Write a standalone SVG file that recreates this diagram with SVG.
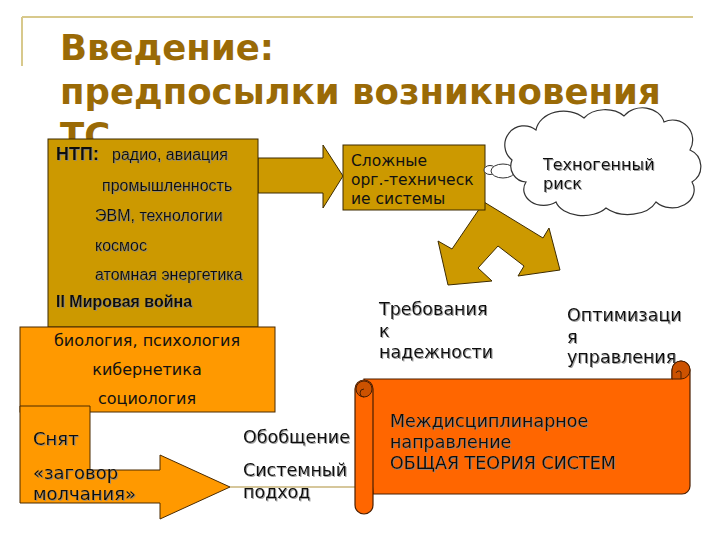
<svg xmlns="http://www.w3.org/2000/svg" width="720" height="540" viewBox="0 0 720 540">
<defs>
<style>
.t{font-family:"DejaVu Sans","Noto Sans",sans-serif;fill:#111;}
.a{font-family:"Liberation Sans",Arial,sans-serif;fill:#111;}
.title{font-family:"DejaVu Sans",sans-serif;font-weight:bold;font-size:35.5px;fill:#9a6a06;}
.gold{fill:#CC9900;stroke:#3d2b00;stroke-width:1;}
.orange{fill:#FF9900;stroke:#4a2a00;stroke-width:1;}
.scroll{fill:#FF6600;stroke:#4a1e00;stroke-width:1.2;}
.curl{fill:#CC5200;stroke:#4a1e00;stroke-width:1;}
.sh{filter:url(#ds);}
</style>
<filter id="ds" x="-5%" y="-20%" width="110%" height="140%">
<feDropShadow dx="1" dy="1" stdDeviation="0.4" flood-color="#888" flood-opacity="0.8"/>
</filter>
</defs>

<g id="title">
<line x1="22" y1="17" x2="693" y2="17" stroke="#d8c98c" stroke-width="2"/>
<line x1="22" y1="17" x2="22" y2="66" stroke="#d8c98c" stroke-width="2"/>
<text class="title" x="60" y="60">Введение:</text>
<text class="title" x="60" y="104">предпосылки возникновения</text>
<text class="title" x="60" y="148">ТС</text>
</g>

<g id="connectors">
<polygon class="gold" points="258,158 323,158 323,145 343,176 323,208 323,193 258,193"/>
<polygon class="gold" points="484,202 543,238 549,228 560,270 518,276 524,266 498,246 478,268 492,281 448,285 438,241 452,249"/>
<line x1="230" y1="487" x2="358" y2="487" stroke="#c9b47a" stroke-width="1.5"/>
</g>

<g id="ntp">
<rect class="gold" x="48" y="139" width="210" height="188"/>
<text class="a sh" x="56" y="160" font-size="18" font-weight="bold">НТП:</text>
<text class="a sh" x="112" y="160" font-size="16">радио, авиация</text>
<text class="a sh" x="102" y="191" font-size="16">промышленность</text>
<text class="a sh" x="95" y="221" font-size="16">ЭВМ, технологии</text>
<text class="a sh" x="95" y="251" font-size="16">космос</text>
<text class="a sh" x="95" y="280" font-size="16">атомная энергетика</text>
<text class="a sh" x="56" y="307" font-size="16" font-weight="bold">II Мировая война</text>
</g>

<g id="sciences">
<rect class="orange" x="20" y="327" width="255" height="85"/>
<text class="t" x="147" y="346" font-size="16" text-anchor="middle">биология, психология</text>
<text class="t" x="147" y="375" font-size="16" text-anchor="middle">кибернетика</text>
<text class="t" x="147" y="404" font-size="16" text-anchor="middle">социология</text>
</g>

<g id="snyat">
<path class="orange" d="M20,406 L90,406 L90,470 L160,470 L160,455 L230,487 L160,519 L160,503 L20,503 Z"/>
<text class="t sh" x="33" y="445" font-size="18">Снят</text>
<text class="t sh" x="33" y="479" font-size="18">«заговор</text>
<text class="t sh" x="33" y="500" font-size="18">молчания»</text>
</g>

<g id="complex">
<rect class="gold" x="343" y="145" width="142" height="65"/>
<text class="t" x="351" y="166" font-size="15.5">Сложные</text>
<text class="t" x="351" y="185" font-size="15.5">орг.-техническ</text>
<text class="t" x="351" y="204" font-size="15.5">ие системы</text>
</g>

<g id="risk">
<ellipse cx="490" cy="170" rx="6" ry="4.5" fill="#fff" stroke="#333" stroke-width="1"/>
<ellipse cx="503" cy="171" rx="12" ry="7" fill="#fff" stroke="#333" stroke-width="1"/>
<path d="M512,160 a18,18 0 0 1 24,-30 a28,22 0 0 1 48,-12 a25,18 0 0 1 40,-2 a22,18 0 0 1 40,6 a20,20 0 0 1 26,28 a18,18 0 0 1 2,32 a22,18 0 0 1 -36,20 a30,20 0 0 1 -50,6 a28,18 0 0 1 -50,-6 a20,16 0 0 1 -30,-20 a16,16 0 0 1 -14,-22 z" fill="#fff" stroke="#333" stroke-width="1.2"/>
<text class="t sh" x="543" y="170" font-size="16">Техногенный</text>
<text class="t sh" x="543" y="189" font-size="16">риск</text>
</g>

<g id="reliability">
<text class="t sh" x="379" y="315" font-size="17.5">Требования</text>
<text class="t sh" x="379" y="337" font-size="17.5">к</text>
<text class="t sh" x="379" y="358" font-size="17.5">надежности</text>
</g>

<g id="optimization">
<text class="t sh" x="567" y="321" font-size="17.5">Оптимизаци</text>
<text class="t sh" x="567" y="343" font-size="17.5">я</text>
<text class="t sh" x="567" y="363" font-size="17.5">управления</text>
</g>

<g id="generalization">
<text class="t sh" x="243" y="443" font-size="17.5">Обобщение</text>
<text class="t sh" x="243" y="476" font-size="17.5">Системный</text>
<text class="t sh" x="243" y="498" font-size="17.5">подход</text>
</g>

<g id="theory">
<path class="scroll" d="M364,379 L672,379 L672,370 A9,9 0 0 1 690,370 L690,486 A8,8 0 0 1 682,494 L373,494 Z"/>
<path class="curl" d="M672,379 L672,370 A9,9 0 0 1 690,370 A9,9 0 0 1 681,379 Z"/>
<path d="M681,379 L681,372 A3,3 0 0 0 676,373" fill="none" stroke="#4a1e00" stroke-width="1"/>
<rect class="scroll" x="355" y="380" width="18" height="134" rx="9"/>
<circle class="curl" cx="364" cy="389" r="8"/>
<path d="M364,397 A4,4 0 0 1 364,389" fill="none" stroke="#4a1e00" stroke-width="1"/>
<text class="t sh" x="390" y="427" font-size="17.5" fill="#2a1200">Междисциплинарное</text>
<text class="t sh" x="390" y="448" font-size="17.5" fill="#2a1200">направление</text>
<text class="t sh" x="390" y="469" font-size="17.5" fill="#2a1200">ОБЩАЯ ТЕОРИЯ СИСТЕМ</text>
</g>
</svg>
